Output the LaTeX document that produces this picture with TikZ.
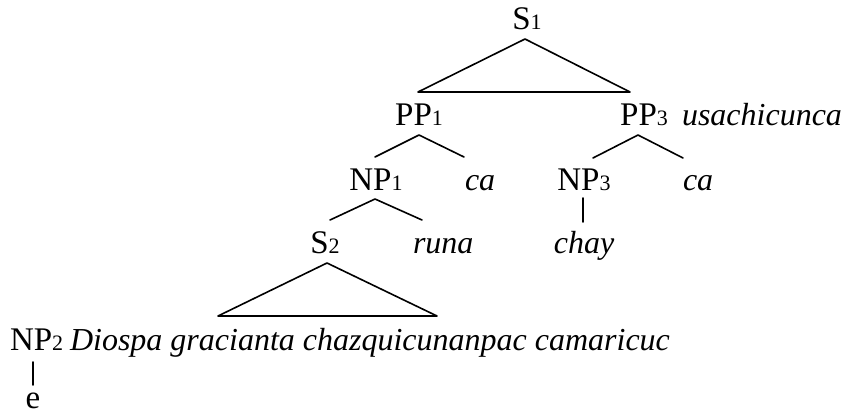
\documentclass[tikz,border=0pt]{standalone}
\usepackage{fontspec}
\setmainfont{Liberation Serif}
\newcommand\ix[1]{{\fontsize{22}{22}\selectfont #1}}
\tikzset{
  lbl/.style={inner sep=0pt, outer sep=0pt, anchor=base, font=\fontsize{33}{33}\selectfont},
  word/.style={lbl, anchor=base west, font=\fontsize{32}{32}\selectfont\itshape},
  branch/.style={line width=1.6pt, line cap=round, line join=round},
}
\begin{document}
\begin{tikzpicture}[x=1pt,y=-1pt]
\useasboundingbox (0,0) rectangle (842,414);

% category labels and words
\node[lbl] (s1) at (527,30) {S\ix{1}};
\node[lbl] (pp1) at (419,126) {PP\ix{1}};
\node[lbl] (pp3) at (644,126) {PP\ix{3}};
\node[word] (usa) at (682,126) {usachicunca};
\node[lbl] (np1) at (376,190) {NP\ix{1}};
\node[word] (ca1) at (465,190) {ca};
\node[lbl] (np3) at (584,190) {NP\ix{3}};
\node[word] (ca3) at (683,190) {ca};
\node[lbl] (s2) at (325,253) {S\ix{2}};
\node[word] (runa) at (413,253) {runa};
\node[word, anchor=base] (chay) at (584,253) {chay};
\node[lbl, anchor=base west] (np2) at (10,350) {NP\ix{2}};
\node[word] (diospa) at (70,350) {Diospa gracianta chazquicunanpac camaricuc};
\node[lbl] (e) at (33,408) {e};

% branch points
\coordinate (s1top) at (525,39);
\coordinate (s1l) at (418,92);
\coordinate (s1r) at (630,92);
\coordinate (pp1top) at (419,135);
\coordinate (pp1l) at (375,157);
\coordinate (pp1r) at (464,157);
\coordinate (pp3top) at (638,135);
\coordinate (pp3l) at (593,158);
\coordinate (pp3r) at (683,158);
\coordinate (np1top) at (375,199);
\coordinate (np1l) at (330,220);
\coordinate (np1r) at (422,220);
\coordinate (np3top) at (583,198);
\coordinate (np3bot) at (583,222);
\coordinate (s2top) at (327,263);
\coordinate (s2l) at (218,316);
\coordinate (s2r) at (437,316);
\coordinate (np2top) at (33,362);
\coordinate (np2bot) at (33,385);

% triangles and branches
\draw[branch] (s1l) -- (s1top) -- (s1r) -- cycle;
\draw[branch] (pp1l) -- (pp1top) -- (pp1r);
\draw[branch] (pp3l) -- (pp3top) -- (pp3r);
\draw[branch] (np1l) -- (np1top) -- (np1r);
\draw[branch] (np3top) -- (np3bot);
\draw[branch] (s2l) -- (s2top) -- (s2r) -- cycle;
\draw[branch] (np2top) -- (np2bot);
\end{tikzpicture}
\end{document}
